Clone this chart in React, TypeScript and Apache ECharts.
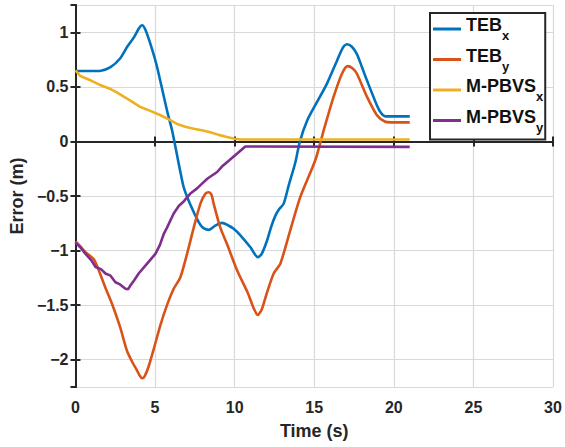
import React, { useEffect, useRef } from "react";
import * as echarts from "echarts";

const tebXTime = [0, 0.5, 1.0, 1.6, 2.2, 2.8, 3.24, 3.7, 4.0, 4.19, 4.4, 4.8, 5.13, 5.75, 6.07, 6.28, 6.59, 6.8, 7.22, 7.74, 8.0, 8.37, 8.8, 9.21, 9.6, 9.94, 10.36, 10.99, 11.45, 11.7, 12.03, 12.3, 12.56, 12.8, 13.08, 13.4, 13.8, 14.1, 14.55, 15.17, 15.8, 16.43, 16.8, 17.05, 17.35, 17.68, 18.0, 18.31, 18.94, 19.2, 19.46, 21];
const tebXValues = [0.645, 0.645, 0.645, 0.648, 0.68, 0.76, 0.865, 0.96, 1.04, 1.064, 1.02, 0.85, 0.68, 0.284, 0.1, -0.05, -0.28, -0.42, -0.58, -0.74, -0.79, -0.81, -0.77, -0.746, -0.77, -0.8, -0.86, -0.97, -1.06, -1.03, -0.91, -0.78, -0.68, -0.62, -0.57, -0.4, -0.2, 0, 0.19, 0.36, 0.53, 0.74, 0.86, 0.89, 0.87, 0.8, 0.68, 0.56, 0.33, 0.26, 0.23, 0.23];

const tebYTime = [0, 0.3, 0.63, 1.15, 1.46, 1.88, 2.3, 2.8, 3.24, 3.6, 3.87, 4.05, 4.19, 4.35, 4.6, 4.92, 5.34, 5.75, 6.17, 6.59, 7.01, 7.43, 7.85, 8.16, 8.37, 8.55, 8.68, 9.1, 9.52, 10.15, 10.8, 11.2, 11.45, 11.7, 12.0, 12.45, 12.87, 13.5, 14.12, 15.07, 15.59, 16.22, 16.74, 17.1, 17.4, 17.68, 18.31, 18.94, 19.46, 19.8, 21];
const tebYValues = [-0.915, -0.96, -1.015, -1.08, -1.18, -1.34, -1.49, -1.7, -1.92, -2.03, -2.1, -2.15, -2.17, -2.15, -2.06, -1.9, -1.68, -1.5, -1.35, -1.245, -1.03, -0.79, -0.57, -0.48, -0.465, -0.49, -0.57, -0.79, -0.94, -1.18, -1.38, -1.53, -1.59, -1.54, -1.4, -1.21, -1.12, -0.81, -0.51, -0.17, 0.1, 0.41, 0.62, 0.69, 0.67, 0.62, 0.41, 0.24, 0.18, 0.175, 0.175];

const pbvsXTime = [0, 0.3, 0.94, 1.5, 2.2, 2.6, 3.03, 3.5, 4.08, 4.7, 5.34, 5.9, 6.38, 6.9, 7.43, 8.0, 8.47, 9.0, 9.52, 10.0, 10.36, 21];
const pbvsXValues = [0.65, 0.6, 0.56, 0.52, 0.48, 0.45, 0.41, 0.37, 0.315, 0.28, 0.24, 0.2, 0.16, 0.135, 0.116, 0.1, 0.085, 0.06, 0.04, 0.025, 0.018, 0.018];

const pbvsYTime = [0, 0.3, 0.63, 1.0, 1.26, 1.6, 1.88, 2.2, 2.51, 2.8, 3.14, 3.3, 3.45, 3.7, 3.97, 4.5, 5.02, 5.3, 5.54, 5.75, 6.17, 6.5, 6.8, 7.2, 7.64, 7.85, 8.3, 8.9, 9.2, 9.52, 10.25, 10.67, 21];
const pbvsYValues = [-0.924, -0.97, -1.03, -1.09, -1.15, -1.17, -1.21, -1.23, -1.29, -1.31, -1.35, -1.355, -1.32, -1.27, -1.21, -1.12, -1.03, -0.95, -0.85, -0.79, -0.66, -0.59, -0.55, -0.48, -0.43, -0.4, -0.34, -0.28, -0.23, -0.19, -0.1, -0.046, -0.05];

const seriesNames = ["TEB_x", "TEB_y", "M-PBVS_x", "M-PBVS_y"];
const seriesColors = ["#0072BD", "#D95319", "#EDB120", "#7E2F8E"];

const FONT = "'Liberation Sans', Arial, Helvetica, sans-serif";
const TXT = "#262626";

function zip(t: number[], v: number[]) {
  return t.map((x, i) => [x, v[i]]);
}

function fmt(v: number) {
  return v < 0 ? "\u2212" + String(Math.abs(v)) : String(v);
}

export default function App() {
  const ref = useRef<HTMLDivElement>(null);
  useEffect(() => {
    if (!ref.current) return;
    const chart = echarts.init(ref.current, null, { renderer: "svg" });
    const axisLine = { show: true, lineStyle: { color: TXT, width: 2 } };
    const axisTick = { show: true, inside: true, length: 5, lineStyle: { color: TXT, width: 2 } };
    const splitLine = { show: true, lineStyle: { color: "#d9d9d9", width: 1.2 } };
    const datasets = [
      zip(tebXTime, tebXValues),
      zip(tebYTime, tebYValues),
      zip(pbvsXTime, pbvsXValues),
      zip(pbvsYTime, pbvsYValues),
    ];
    chart.setOption({
      animation: false,
      backgroundColor: "#ffffff",
      grid: { left: 75, right: 12, top: 5, bottom: 60, containLabel: false },
      xAxis: [
        {
          type: "value", min: 0, max: 30, interval: 5, position: "bottom",
          name: "Time (s)", nameLocation: "middle", nameGap: 35,
          nameTextStyle: { fontFamily: FONT, fontWeight: "bold", fontSize: 18, color: TXT },
          axisLine, axisTick, splitLine,
          axisLabel: { fontFamily: FONT, fontWeight: "bold", fontSize: 16, color: TXT, margin: 12, formatter: fmt },
        },
        {
          type: "value", min: 0, max: 30, interval: 5, position: "top",
          axisLine, axisTick, splitLine: { show: false }, axisLabel: { show: false },
        },
      ],
      yAxis: [
        {
          type: "value", min: -2.25, max: 1.25, splitNumber: 7, position: "left",
          name: "Error (m)", nameLocation: "middle", nameGap: 41,
          nameTextStyle: { fontFamily: FONT, fontWeight: "bold", fontSize: 18, color: TXT },
          axisLine, axisTick, splitLine,
          axisLabel: { fontFamily: FONT, fontWeight: "bold", fontSize: 16, color: TXT, margin: 7, formatter: fmt, showMinLabel: false, showMaxLabel: false },
        },
        {
          type: "value", min: -2.25, max: 1.25, splitNumber: 7, position: "right",
          axisLine, axisTick, splitLine: { show: false }, axisLabel: { show: false },
        },
      ],
      legend: {
        orient: "vertical",
        left: 430,
        top: 13,
        padding: [3, 2, 6, 3],
        itemGap: 4.5,
        itemWidth: 28,
        itemHeight: 10,
        backgroundColor: "#ffffff",
        borderColor: TXT,
        borderWidth: 2,
        borderRadius: 0,
        data: seriesNames.map((n) => ({ name: n, icon: "path://M0,0L28,0L28,3L0,3Z" })),
        formatter: (name: string) => {
          const [main, sub] = name.split("_");
          return `{b|${main}}{s|${sub}}`;
        },
        textStyle: {
          color: "#111111",
          rich: {
            b: { fontFamily: FONT, fontWeight: "bold", fontSize: 18, lineHeight: 26, verticalAlign: "top", color: "#111111" },
            s: { fontFamily: FONT, fontWeight: "bold", fontSize: 13, lineHeight: 13, verticalAlign: "bottom", color: "#111111" },
          },
        },
      },
      series: seriesNames.map((n, i) => ({
        name: n,
        type: "line",
        data: datasets[i],
        showSymbol: false,
        symbol: "none",
        smooth: i < 2 ? 0.25 : false,
        lineStyle: { color: seriesColors[i], width: 2.6 },
        itemStyle: { color: seriesColors[i] },
        xAxisIndex: 0,
        yAxisIndex: 0,
      })),
    });
    return () => chart.dispose();
  }, []);
  return <div ref={ref} style={{ width: 565, height: 447, position: "absolute", left: 0, top: 0 }} />;
}
